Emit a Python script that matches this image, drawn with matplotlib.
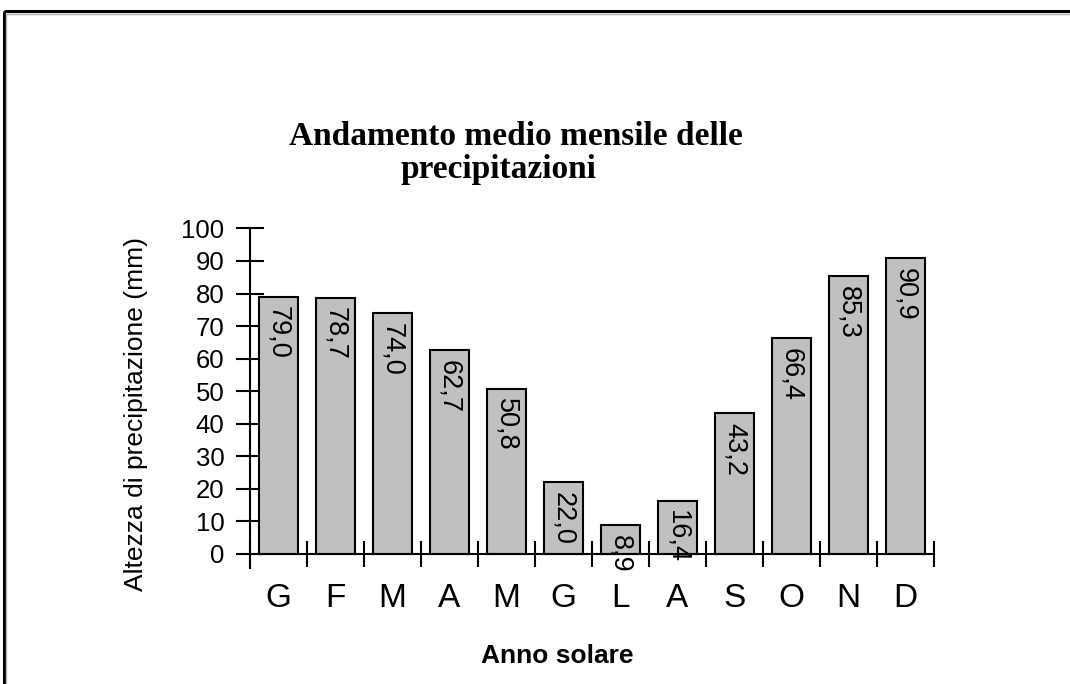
import matplotlib
matplotlib.use('Agg')
import matplotlib.pyplot as plt
import numpy as np
from matplotlib.lines import Line2D

# dati: precipitazioni medie mensili (mm)
months = ['G', 'F', 'M', 'A', 'M', 'G', 'L', 'A', 'S', 'O', 'N', 'D']
rain = [79.0, 78.7, 74.0, 62.7, 50.8, 22.0, 8.9, 16.4, 43.2, 66.4, 85.3, 90.9]
yticks = [0, 10, 20, 30, 40, 50, 60, 70, 80, 90, 100]

plt.rcParams['font.family'] = ['Liberation Sans', 'DejaVu Sans']

fig = plt.figure(figsize=(10.7, 6.84), dpi=100)
fig.patch.set_facecolor('white')

# cornice in alto e a sinistra
fig.add_artist(Line2D([0.0037, 1], [0.9835, 0.9835], transform=fig.transFigure,
                      color='black', lw=2.2, solid_capstyle='butt'))
fig.add_artist(Line2D([0.0037, 1], [0.980, 0.980], transform=fig.transFigure,
                      color='#b0b0b0', lw=1.0))
fig.add_artist(Line2D([0.0037, 0.0037], [0, 0.9835], transform=fig.transFigure,
                      color='black', lw=2.2, solid_capstyle='butt'))
fig.add_artist(Line2D([0.0060, 0.0060], [0, 0.980], transform=fig.transFigure,
                      color='#b0b0b0', lw=1.0))

ax = fig.add_axes([0.23364, 0.16959, 0.63925, 0.49649])
x = np.arange(len(months)) + 0.5
ax.bar(x, rain, width=0.667, color='#c0c0c0', edgecolor='black', linewidth=1.5, zorder=2)

for xi, v in zip(x, rain):
    ax.annotate(f'{v:.1f}'.replace('.', ','), (xi, v), xytext=(0, -7),
                textcoords='offset points', rotation=270, ha='center', va='top',
                fontsize=19.5, zorder=5, annotation_clip=False)

ax.set_xlim(0, 12)
ax.set_ylim(-4.3, 100)
for s in ['top', 'right']:
    ax.spines[s].set_visible(False)
ax.spines['bottom'].set_position(('data', 0))
ax.spines['left'].set_linewidth(1.5)
ax.spines['bottom'].set_linewidth(1.5)

ax.set_yticks(yticks)
ax.set_yticklabels([str(t) for t in yticks], fontsize=18.5)
ax.tick_params(axis='y', direction='inout', length=20, width=1.5, pad=8.5)

ax.set_xticks(np.arange(13))
ax.set_xticklabels([])
ax.tick_params(axis='x', which='major', direction='inout', length=19, width=1.5)
ax.set_xticks(x, minor=True)
ax.set_xticklabels(months, minor=True, fontsize=24)
ax.tick_params(axis='x', which='minor', length=0, pad=21)

fig.text(0.4822, 0.788, 'Andamento medio mensile delle', ha='center', va='baseline',
         fontsize=24, fontweight='bold', family=['Liberation Serif', 'DejaVu Serif'])
fig.text(0.4654, 0.7398, 'precipitazioni', ha='center', va='baseline',
         fontsize=24, fontweight='bold', family=['Liberation Serif', 'DejaVu Serif'])
fig.text(0.1271, 0.3947, 'Altezza di precipitazione (mm)', rotation=90,
         ha='center', va='center', fontsize=19)
fig.text(0.5206, 0.0307, 'Anno solare', ha='center', va='baseline',
         fontsize=19, fontweight='bold')

fig.savefig('out.png', dpi=100)
